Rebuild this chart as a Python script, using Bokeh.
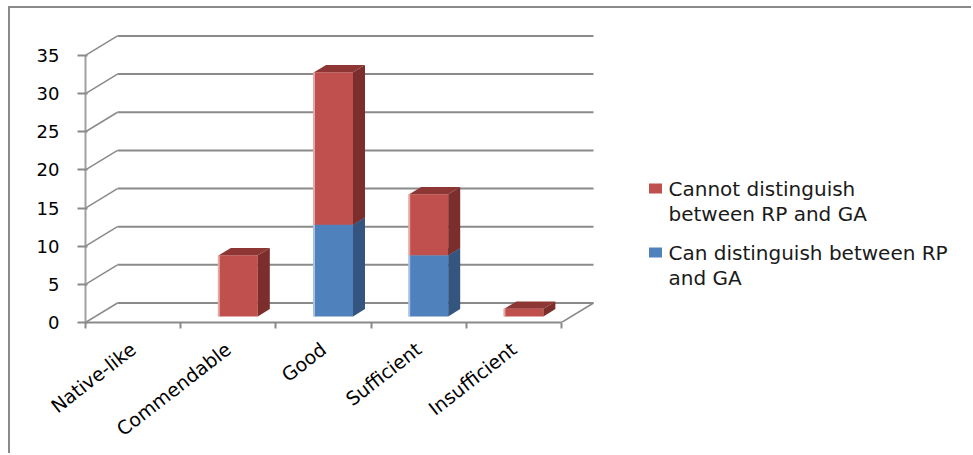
import numpy as np
from bokeh.plotting import figure
from bokeh.models import Range1d, FixedTicker
from bokeh.core.properties import value
from bokeh.embed import file_html
from bokeh.resources import INLINE

# ---- data ----
categories = ["Native-like", "Commendable", "Good", "Sufficient", "Insufficient"]
can_distinguish = [0, 0, 12, 8, 0]
cannot_distinguish = [0, 8, 20, 8, 1]
y_ticks = [0, 5, 10, 15, 20, 25, 30, 35]
series_names = ["Cannot distinguish\nbetween RP and GA",
                "Can distinguish between RP\nand GA"]

# ---- layout / style constants ----
MT, ML = 8, 10                # page margin around the figure (border drawn there)
W, H = 973 - ML, 455 - MT
PX_X = 95.2      # pixels per category
PX_Y = 7.63      # pixels per unit
LEFT, BOTTOM = 85 - ML, 133
frame_w = W - LEFT
frame_h = H - BOTTOM
n = len(categories)

DX = 32 / PX_X     # depth offset in x units
DY = 19.5 / PX_Y   # depth offset in y units
BAR_W = 39 / PX_X
F0, F1 = 0.3125, 0.6875
GRID = "#8a8a8a"
FONT = "DejaVu Sans"

p = figure(width=W, height=H, output_backend="svg", toolbar_location=None,
           x_range=Range1d(0, frame_w / PX_X), y_range=Range1d(0, frame_h / PX_Y),
           min_border_left=LEFT, min_border_bottom=BOTTOM,
           min_border_top=0, min_border_right=0)
p.margin = (MT, 0, 0, ML)
p.styles = {"box-shadow": "-2px -2px 0px 0px #8a8a8a"}
p.background_fill_color = "white"
p.border_fill_color = "white"
p.outline_line_color = None
p.xgrid.visible = False
p.ygrid.visible = False

# ---- back wall grid lines, left wall diagonals, floor edge ----
yt = np.array(y_ticks, dtype=float)
p.segment(x0=[DX] * len(yt), y0=yt + DY, x1=[n + DX] * len(yt), y1=yt + DY,
          line_color=GRID, line_width=2)
p.segment(x0=[0] * len(yt), y0=yt, x1=[DX] * len(yt), y1=yt + DY,
          line_color=GRID, line_width=1.5)
p.segment(x0=[n], y0=[0], x1=[n + DX], y1=[DY], line_color=GRID, line_width=1.5)

# ---- 3D stacked bars ----
def draw_series(values, bases, front, side, top, edge):
    lefts, rights, bots, tops = [], [], [], []
    sx, sy, tx, ty = [], [], [], []
    for i, (v, b) in enumerate(zip(values, bases)):
        if v <= 0:
            continue
        l = i + 0.5 - BAR_W / 2 + F0 * DX
        r = l + BAR_W
        y0 = b + F0 * DY
        y1 = b + v + F0 * DY
        d_x = (F1 - F0) * DX
        d_y = (F1 - F0) * DY
        lefts.append(l); rights.append(r); bots.append(y0); tops.append(y1)
        sx.append([r, r + d_x, r + d_x, r]); sy.append([y0, y0 + d_y, y1 + d_y, y1])
        tx.append([l, r, r + d_x, l + d_x]); ty.append([y1, y1, y1 + d_y, y1 + d_y])
    rend = p.quad(left=lefts, right=rights, bottom=bots, top=tops,
                  fill_color=front, line_color=None)
    p.segment(x0=lefts, y0=bots, x1=lefts, y1=tops, line_color=edge, line_width=2)
    p.patches(xs=sx, ys=sy, fill_color=side, line_color=None)
    p.patches(xs=tx, ys=ty, fill_color=top, line_color=None)
    return rend

series_colors = ["#C0504D", "#4F81BD"]
blue = draw_series(can_distinguish, [0] * n, series_colors[1], "#34557F", "#3F6797", "#A9C1DF")
red = draw_series(cannot_distinguish, can_distinguish, series_colors[0], "#7B2E2C", "#8E3634", "#E4A9A7")

# ---- axes ----
yaxis = p.yaxis[0]
yaxis.ticker = FixedTicker(ticks=y_ticks)
yaxis.bounds = (0, 35)
yaxis.axis_line_color = "#a0a0a0"
yaxis.axis_line_width = 2
yaxis.major_tick_line_color = GRID
yaxis.major_tick_line_width = 2
yaxis.major_tick_in = 2
yaxis.major_tick_out = 8
yaxis.minor_tick_line_color = None
yaxis.major_label_standoff = 18
yaxis.major_label_text_font = FONT
yaxis.major_label_text_font_size = "18px"
yaxis.major_label_text_color = "#000000"

xaxis = p.xaxis[0]
xaxis.ticker = FixedTicker(ticks=[i + 0.5 for i in range(n)],
                           minor_ticks=list(range(n + 1)))
xaxis.major_label_overrides = {i + 0.5: c for i, c in enumerate(categories)}
xaxis.bounds = (0, n)
xaxis.axis_line_color = GRID
xaxis.axis_line_width = 2
xaxis.major_tick_in = 0
xaxis.major_tick_out = 0
xaxis.minor_tick_in = 0
xaxis.minor_tick_out = 6
xaxis.minor_tick_line_color = GRID
xaxis.minor_tick_line_width = 2
xaxis.major_label_orientation = 0.66
xaxis.major_label_standoff = 18
xaxis.major_label_text_font = FONT
xaxis.major_label_text_font_size = "19px"
xaxis.major_label_text_color = "#000000"

# ---- legend (drawn with glyphs so the swatch sits on the first text line) ----
def to_x(px):   # page pixel -> data x
    return (px - (LEFT + ML)) / PX_X

def to_y(py):   # page pixel -> data y
    return (MT + frame_h - py) / PX_Y

LEG_X, LEG_Y0, LINE_H, ITEM_GAP = 655, 188, 25, 14
sw_x, sw_y, tx_x, tx_y, tx_t = [], [], [], [], []
row = LEG_Y0
for name in series_names:
    lines = name.split("\n")
    sw_x.append(to_x(LEG_X)); sw_y.append(to_y(row))
    for k, line in enumerate(lines):
        tx_x.append(to_x(LEG_X + 13)); tx_y.append(to_y(row + k * LINE_H)); tx_t.append(line)
    row += len(lines) * LINE_H + ITEM_GAP
p.rect(x=sw_x, y=sw_y, width=13, height=10, width_units="screen", height_units="screen",
       fill_color=series_colors, line_color=None)
p.text(x=tx_x, y=tx_y, text=tx_t, text_font=value(FONT), text_font_size="20px",
       text_baseline="middle", text_align="left", text_color="#1a1a1a")

open("out.html", "w").write(file_html(p, INLINE))
